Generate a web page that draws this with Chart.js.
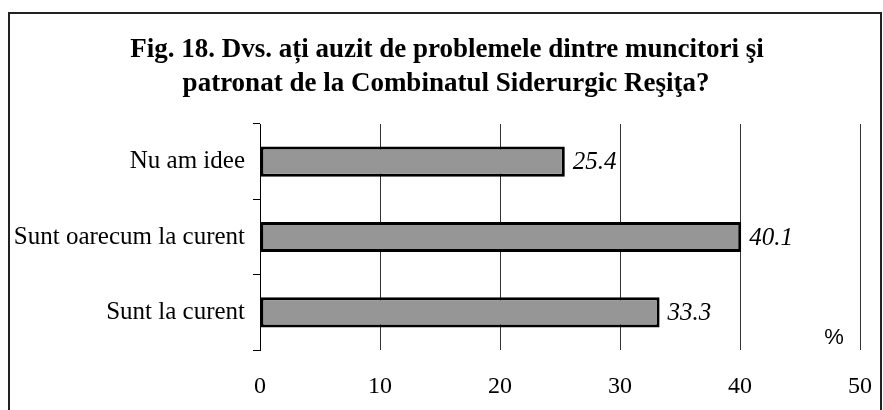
<!DOCTYPE html>
<html>
<head>
<meta charset="utf-8">
<script src="https://cdn.jsdelivr.net/npm/chart.js@4"></script>
<style>
  html, body { margin: 0; padding: 0; background: #fff; }
  #wrap { width: 883px; height: 410px; }
</style>
</head>
<body>
<div id="wrap"><canvas id="chart" width="883" height="410"></canvas></div>
<script>
const titleLines = [
  "Fig. 18. Dvs. ați auzit de problemele dintre muncitori şi",
  "patronat de la Combinatul Siderurgic Reşiţa?",
];
const categories = ["Nu am idee", "Sunt oarecum la curent", "Sunt la curent"];
const values = [25.4, 40.1, 33.3];
const unitLabel = "%";

const serif = "'Liberation Serif', 'Times New Roman', serif";

// frame, title, unit sign and the italic value labels
const decorations = {
  id: "decorations",
  beforeDraw(chart) {
    const ctx = chart.ctx;
    ctx.save();
    ctx.fillStyle = "#fff";
    ctx.fillRect(0, 0, chart.width, chart.height);
    ctx.strokeStyle = "#222";
    ctx.lineWidth = 2;
    ctx.strokeRect(9, 13, 872, 420);
    ctx.fillStyle = "#000";
    ctx.font = `bold 27px ${serif}`;
    ctx.textAlign = "center";
    ctx.textBaseline = "middle";
    ctx.fillText(titleLines[0], 447, 50);
    ctx.fillText(titleLines[1], 446, 84);
    ctx.restore();
  },
  afterDatasetsDraw(chart) {
    const ctx = chart.ctx;
    ctx.save();
    ctx.fillStyle = "#000";
    ctx.font = `italic 25px ${serif}`;
    ctx.textAlign = "left";
    ctx.textBaseline = "middle";
    chart.getDatasetMeta(0).data.forEach((bar, i) => {
      ctx.fillText(values[i].toFixed(1), bar.x + 8, bar.y + 1);
    });
    ctx.font = "22px 'Liberation Sans', Arial, sans-serif";
    ctx.textAlign = "center";
    ctx.fillText(unitLabel, 834, 338);
    ctx.restore();
  },
};

new Chart(document.getElementById("chart").getContext("2d"), {
  type: "bar",
  data: {
    labels: categories,
    datasets: [
      {
        data: values,
        backgroundColor: "#969696",
        borderColor: "#000",
        borderWidth: 3,
        borderSkipped: false,
        barPercentage: 0.4,
        categoryPercentage: 1,
      },
    ],
  },
  options: {
    indexAxis: "y",
    responsive: false,
    animation: false,
    layout: { padding: { top: 124, right: 23, bottom: 0, left: 0 } },
    plugins: {
      legend: { display: false },
      title: { display: false },
      tooltip: { enabled: false },
    },
    scales: {
      x: {
        min: 0,
        max: 50,
        ticks: {
          stepSize: 10,
          color: "#000",
          padding: 22,
          font: { family: serif, size: 24 },
        },
        grid: {
          color: "#333",
          lineWidth: 1,
          drawTicks: false,
        },
        border: { display: false },
        afterFit(scale) {
          scale.height = 60;
          scale.paddingLeft = 0;
          scale.paddingRight = 0;
        },
      },
      y: {
        ticks: {
          color: "#000",
          padding: 8,
          font: { family: serif, size: 25 },
        },
        grid: {
          offset: true,
          drawOnChartArea: false,
          drawTicks: true,
          tickLength: 7,
          color: "#000",
        },
        border: { display: true, color: "#000", width: 1 },
        afterFit(scale) {
          scale.width = 260;
          scale.paddingTop = 0;
          scale.paddingBottom = 0;
        },
      },
    },
  },
  plugins: [decorations],
});
</script>
</body>
</html>
